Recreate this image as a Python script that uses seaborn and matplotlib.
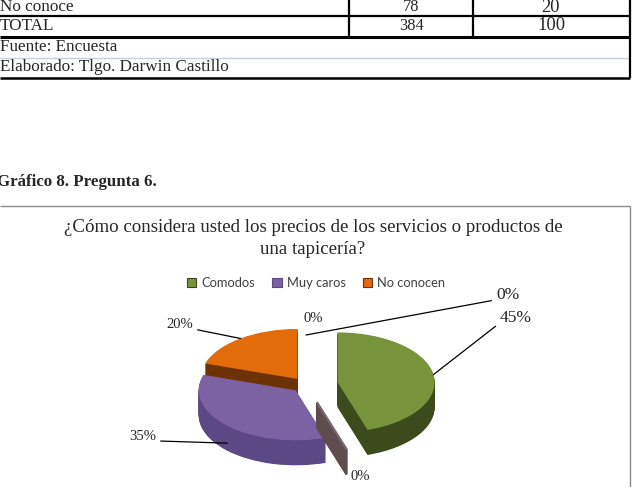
import numpy as np
import matplotlib
matplotlib.use("Agg")
import matplotlib.pyplot as plt
from matplotlib.patches import Patch
import seaborn as sns

# ---------------- data ----------------
table_rows = ["No conoce", "TOTAL"]
table_freq = [78, 384]
table_pct = [20, 100]
table_notes = ["Fuente: Encuesta", "Elaborado: Tlgo. Darwin Castillo"]

caption = "Gráfico 8. Pregunta 6."
chart_title = "¿Cómo considera usted los precios de los servicios o productos de\nuna tapicería?"

slice_names = ["Comodos", "", "Muy caros", "No conocen", "", ""]
slice_values = [45, 0, 35, 20, 0, 0]
legend_names = ["Comodos", "Muy caros", "No conocen"]

# ---------------- style ----------------
sns.set_style("white")
plt.rcParams["font.family"] = ["Liberation Serif", "DejaVu Serif"]

top_colors = ["#77933c", "#7b6668", "#7d62a3", "#e36c0a", "#ffffff", "#ffffff"]
side_colors = ["#3b4b1c", "#5e4c4e", "#5b4884", "#6c3205", "#ffffff", "#ffffff"]
explode = [0.33, 0.36, 0.15, 0.15, 0.0, 0.0]
zero_visible = [False, True, False, False, False, False]

W, H = 633, 487
fig = plt.figure(figsize=(W / 100, H / 100), dpi=100)
bg = fig.add_axes([0, 0, 1, 1])
bg.set_xlim(0, W)
bg.set_ylim(H, 0)
bg.axis("off")

# ---------------- table fragment ----------------
bg.hlines(15.5, 0, 630, color="black", lw=1.6)
bg.hlines(37, 0, 630, color="black", lw=2.2)
bg.hlines(57.5, 0, 630, color="#c9cde0", lw=1.0)
bg.hlines(78, 0, 630, color="black", lw=1.8)
bg.vlines([349, 473], 0, 37, color="black", lw=1.6)
bg.vlines(630, 0, 78, color="black", lw=1.6)

tfs = 12.3
row_y = [7, 26]
for name, f, p, y in zip(table_rows, table_freq, table_pct, row_y):
    bg.text(0, y, name, fontsize=tfs, va="center", ha="left")
    bg.text(411, y, str(f), fontsize=tfs - 0.5, va="center", ha="center")
    bg.text(551, y, str(p), fontsize=tfs + 1, va="center", ha="center")
for note, y in zip(table_notes, [47, 67]):
    bg.text(0, y, note, fontsize=tfs, va="center", ha="left")

# ---------------- caption ----------------
bg.text(-3, 182, caption, fontsize=12.2, fontweight="bold", va="center", ha="left")

# ---------------- chart box ----------------
bg.hlines(206, 0, 630, color="#8a8a8a", lw=1.0)
bg.vlines(630, 206, H, color="#8a8a8a", lw=1.0)
for line, y in zip(chart_title.split("\n"), [228, 249]):
    bg.text(313, y, line, fontsize=13.6, ha="center", va="center", color="#262626")

# ---------------- 3D-like pie ----------------
cx, cy = 306, 385
rx, ry = 97, 50
depth = 25
L, R, T, B = 150, 470, 300, 486
pie_ax = fig.add_axes([L / W, 1 - B / H, (R - L) / W, (B - T) / H])

n_layers = 40
layer_shift = [-(depth / ry) * k / n_layers for k in range(n_layers, 0, -1)]

top_wedges = None
all_layers = []
for k, dy in enumerate(layer_shift + [0.0]):
    is_top = dy == 0.0
    wedges, _ = pie_ax.pie(slice_values, explode=explode, startangle=90,
                           counterclock=False, center=(0, dy), radius=1,
                           colors=top_colors if is_top else side_colors,
                           wedgeprops=dict(linewidth=0))
    all_layers.append((k, is_top, wedges))
    if is_top:
        top_wedges = wedges

mids = [np.deg2rad((w.theta1 + w.theta2) / 2) for w in top_wedges]
order = np.argsort([-np.sin(m) for m in mids])
rank = {int(i): r for r, i in enumerate(order)}

for k, is_top, wedges in all_layers:
    for i, w in enumerate(wedges):
        w.set_zorder(10 + rank[i] * 100 + k)
        if slice_values[i] == 0:
            if zero_visible[i]:
                w.set_edgecolor(top_colors[i] if is_top else side_colors[i])
                w.set_linewidth(1.6)
            else:
                w.set_visible(False)

pie_ax.set_aspect("auto")
pie_ax.set_xlim((L - cx) / rx, (R - cx) / rx)
pie_ax.set_ylim(-(B - cy) / ry, (cy - T) / ry)
pie_ax.axis("off")

# ---------------- legend ----------------
handles = []
for nm in legend_names:
    i = slice_names.index(nm)
    handles.append(Patch(facecolor=top_colors[i], edgecolor=side_colors[i], lw=0.8))
fig.legend(handles, legend_names, loc="center", bbox_to_anchor=(316 / W, 1 - 283 / H),
           ncol=3, frameon=False, prop=dict(family="Lato", size=9.3),
           handlelength=0.75, handleheight=0.75, handletextpad=0.4,
           columnspacing=1.3, labelcolor="#404040")

# ---------------- data labels ----------------
# label layout: (x px, y px, ha, fontsize, leader?, relpos, depth fraction for anchor)
label_layout = {
    0: (500, 318, "left", 12.5, True, (0.0, 0.2), 0.0),
    1: (360, 477, "center", 10.5, False, None, 0.0),
    2: (156, 437, "right", 10.5, True, (1.0, 0.2), 0.7),
    3: (193, 325, "right", 10.5, True, (1.0, 0.2), 0.0),
    4: (313, 318, "center", 10.5, False, None, 0.0),
    5: (496, 295, "left", 12.5, True, (0.0, 0.2), 0.0),
}
for i, w in enumerate(top_wedges):
    x, y, ha, fs, leader, relpos, dfrac = label_layout[i]
    txt = f"{slice_values[i]}%"
    if leader:
        m = mids[i]
        ex = explode[i]
        ax_pt = ((1 + ex) * np.cos(m), (1 + ex) * np.sin(m) - dfrac * depth / ry)
        pie_ax.annotate(txt, xy=ax_pt, xycoords="data", xytext=(x, y),
                        textcoords=bg.transData, fontsize=fs, ha=ha, va="center",
                        annotation_clip=False, zorder=2000,
                        arrowprops=dict(arrowstyle="-", color="black", lw=0.9,
                                        shrinkA=1, shrinkB=0, relpos=relpos))
    else:
        bg.text(x, y, txt, fontsize=fs, ha=ha, va="center")

fig.savefig("out.png", dpi=100)
